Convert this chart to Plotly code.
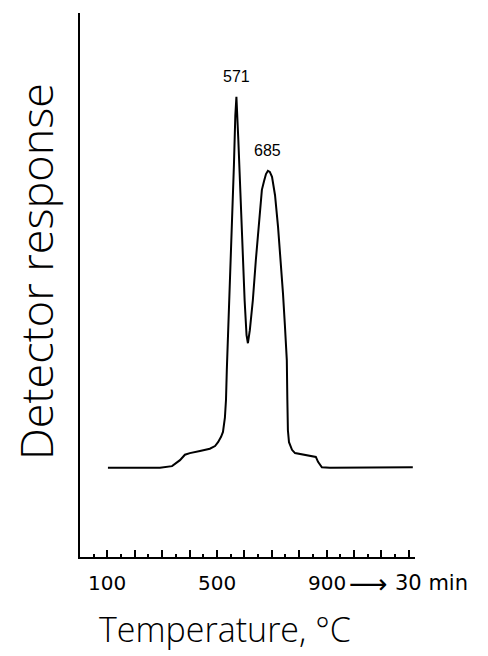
import plotly.graph_objects as go

# Programme coordinate (°C equivalent; beyond 900 = isothermal hold to 30 min)
temp = [102, 292, 336, 365, 383, 401, 438, 474, 493, 504, 515, 522, 529, 533, 536, 540, 547, 555,
        562, 567, 571, 578, 586, 594, 601, 608, 613, 620, 631, 642, 653, 664, 672, 679, 686, 693,
        701, 712, 723, 734, 741, 748, 755, 757, 759, 763, 774, 785, 821, 861, 869, 883, 912, 1215]
response = [16.4, 16.4, 16.7, 17.8, 18.8, 19.1, 19.5, 19.9, 20.4, 21.1, 22.1, 23.0, 25.6, 28.9,
            34.4, 39.9, 49.1, 60.7, 72.1, 81.1, 84.6, 76.7, 65.6, 54.6, 47.2, 40.8, 39.3, 41.7,
            47.2, 54.6, 61.9, 67.5, 69.1, 70.4, 71.0, 70.8, 69.9, 66.5, 60.7, 53.7, 48.5, 42.6,
            36.2, 28.9, 23.3, 21.1, 19.7, 19.1, 18.8, 18.4, 17.5, 16.5, 16.4, 16.5]

peak_temps = [571, 685]
peak_resp = [84.6, 71.0]
peak_labels = ["571", "685"]

major_ticks = [0, 100, 200, 300, 400, 500, 600, 700, 800, 900, 1000, 1100, 1200, 1223]
label_ticks = [100, 500, 900]
label_text = ["100", "500", "900"]

X_MAX = 1223

fig = go.Figure()
fig.add_trace(go.Scatter(x=temp, y=response, mode="lines",
                         line=dict(color="black", width=2), showlegend=False,
                         hoverinfo="skip"))

for t, r, lab in zip(peak_temps, peak_resp, peak_labels):
    fig.add_annotation(x=t, y=r, text=lab, showarrow=False, yshift=20,
                       font=dict(family="Liberation Sans", size=16, color="black"))

tick_font = dict(family="DejaVu Sans", size=20, color="black")
for t, lab in zip(label_ticks, label_text):
    fig.add_annotation(x=t, y=0, yref="paper", text=lab, showarrow=False, yshift=-26,
                       xanchor="center", yanchor="middle", font=tick_font)

fig.add_annotation(x=label_ticks[-1], y=0, yref="paper", text="\u27f6", showarrow=False,
                   xanchor="center", yanchor="middle", xshift=42, yshift=-26,
                   font=dict(family="DejaVu Sans", size=27, color="black"))
fig.add_annotation(x=label_ticks[-1], y=0, yref="paper", text="30 min", showarrow=False,
                   xanchor="left", yanchor="middle", xshift=66, yshift=-26,
                   font=dict(family="DejaVu Sans", size=21, color="black"))

fig.add_annotation(x=0.434, xref="paper", y=0, yref="paper", text="Temperature, °C",
                   showarrow=False, yshift=-72, xanchor="center", yanchor="middle",
                   font=dict(family="Open Sans", size=34, color="black", weight=300))

fig.add_annotation(x=0, xref="paper", y=0.524, yref="paper", text="Detector response",
                   showarrow=False, textangle=-90, xshift=-44, xanchor="center",
                   yanchor="middle",
                   font=dict(family="Open Sans", size=45, color="black", weight=300))

fig.update_layout(
    width=488, height=656,
    margin=dict(l=80, r=73, t=13, b=99),
    paper_bgcolor="white", plot_bgcolor="white",
    xaxis=dict(range=[0, X_MAX], showgrid=False, zeroline=False, showline=True,
               linecolor="black", linewidth=2,
               tickmode="array", tickvals=major_ticks, ticks="inside", ticklen=7,
               tickwidth=1.5, tickcolor="black", showticklabels=False,
               minor=dict(ticks="inside", ticklen=3, tickwidth=1.5, tickcolor="black",
                          dtick=50, tick0=0)),
    yaxis=dict(range=[0, 100], showgrid=False, zeroline=False, showline=True,
               linecolor="black", linewidth=2, ticks="", showticklabels=False),
)

fig.write_html("out.html")
